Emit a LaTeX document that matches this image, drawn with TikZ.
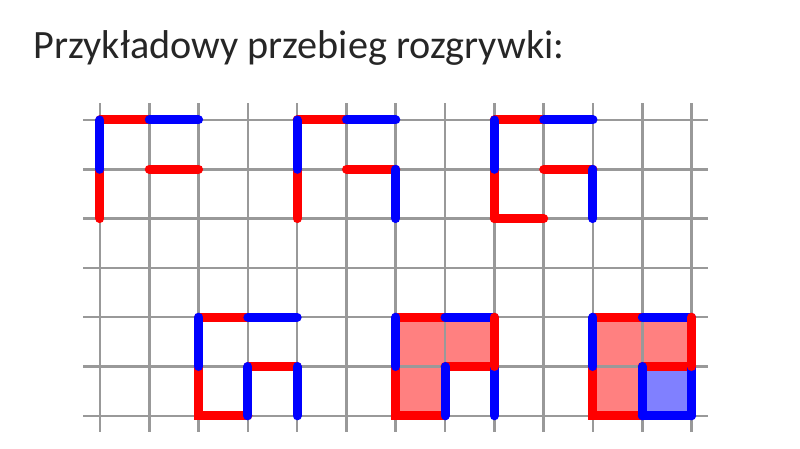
\documentclass[tikz,border=0pt]{standalone}
\usepackage{fontspec}
\setmainfont{Carlito}
\usetikzlibrary{positioning}

\begin{document}
\begin{tikzpicture}[
    x=1cm, y=-1cm,
    gridline/.style={draw=black!40, line width=1.5pt},
    rededge/.style={draw=red, line width=5.2pt, line cap=round},
    blueedge/.style={draw=blue, line width=5.2pt, line cap=round},
    redcell/.style={fill=red!50},
    bluecell/.style={fill=blue!50},
    title/.style={font=\fontsize{23.2}{28}\selectfont, text=black!85,
                  inner sep=0pt, anchor=base west},
  ]
    \useasboundingbox (-2.028,-2.434) rectangle (14.199,6.673);

    % Title
    \node[title] (title) at (-1.36,-1.25) {Przykładowy przebieg rozgrywki:};

    % Captured squares
    \fill[redcell] (6,4) rectangle (8,5);
    \fill[redcell] (6,5) rectangle (7,6);
    \fill[redcell] (10,4) rectangle (12,5);
    \fill[redcell] (10,5) rectangle (11,6);
    \fill[bluecell] (11,5) rectangle (12,6);

    % Board grid
    \foreach \i in {0,...,12}
      \draw[gridline] (\i,-0.34) -- (\i,6.33);
    \foreach \j in {0,...,6}
      \draw[gridline] (-0.34,\j) -- (12.33,\j);

    % Move 1
    \draw[rededge] (0,0) -- (1,0);
    \draw[rededge] (0,1) -- (0,2);
    \draw[rededge] (1,1) -- (2,1);
    \draw[blueedge] (1,0) -- (2,0);
    \draw[blueedge] (0,0) -- (0,1);

    % Moves 2 and 3
    \foreach \ox in {4,8} {
      \begin{scope}[shift={(\ox,0)}]
        \draw[rededge] (0,0) -- (1,0);
        \draw[rededge] (0,1) -- (0,2);
        \draw[rededge] (1,1) -- (2,1);
        \draw[blueedge] (1,0) -- (2,0);
        \draw[blueedge] (0,0) -- (0,1);
        \draw[blueedge] (2,1) -- (2,2);
      \end{scope}
    }
    \draw[rededge] (8,2) -- (9,2);

    % Moves 4, 5 and 6
    \foreach \ox in {2,6,10} {
      \begin{scope}[shift={(\ox,4)}]
        \draw[rededge] (0,0) -- (1,0);
        \draw[rededge] (0,1) -- (0,2) -- (1,2);
        \draw[rededge] (1,1) -- (2,1);
        \draw[blueedge] (1,0) -- (2,0);
        \draw[blueedge] (0,0) -- (0,1);
        \draw[blueedge] (1,1) -- (1,2);
        \draw[blueedge] (2,1) -- (2,2);
      \end{scope}
    }
    \draw[rededge] (8,4) -- (8,5);
    \draw[rededge] (12,4) -- (12,5);
    \draw[blueedge] (11,6) -- (12,6);
  \end{tikzpicture}
\end{document}
